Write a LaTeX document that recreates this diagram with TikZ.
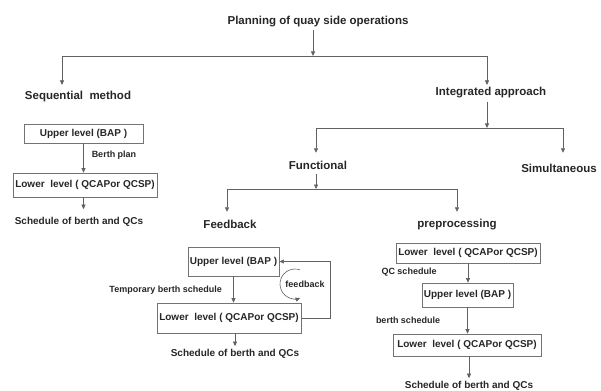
\documentclass[tikz,border=0pt]{standalone}
\usepackage{fontspec}
\setmainfont{Liberation Sans}
\usetikzlibrary{arrows.meta, calc}
\colorlet{linegray}{black!62}
\colorlet{boxgray}{black!55}
\colorlet{textdark}{black!85}

\begin{document}
\begin{tikzpicture}[
        x=1pt, y=-1pt,
        head/.style={
            inner sep=0pt,
            text=textdark,
            font=\fontsize{11.5}{13}\selectfont\bfseries,
        },
        box/.style={
            draw=boxgray,
            rectangle,
            line width=0.7pt,
            inner sep=2pt,
            text=textdark,
            font=\fontsize{10}{12}\selectfont\bfseries,
        },
        note/.style={
            inner sep=0pt,
            text=textdark,
            font=\fontsize{9}{11}\selectfont\bfseries,
        },
        result/.style={
            inner sep=0pt,
            text=textdark,
            font=\fontsize{10}{12}\selectfont\bfseries,
        },
        flow/.style={
            draw=linegray,
            line width=0.6pt,
            -{Triangle[width=4pt, length=4.5pt]},
        },
    ]

    \useasboundingbox (0,0) rectangle (601,390);

    % headings
    \node[head] (plan) at (318,22) {Planning of quay side operations};
    \node[head] (seq) at (78,97) {Sequential\ \ method};
    \node[head] (intg) at (491,93) {Integrated approach};
    \node[head] (func) at (318,165) {Functional};
    \node[head] (simul) at (559,168) {Simultaneous};
    \node[head] (fback) at (230,224) {Feedback};
    \node[head] (prep) at (457,225) {preprocessing};

    % sequential method
    \node[box, minimum width=119pt, minimum height=19pt] (su) at (83.5,133.5) {Upper level (BAP )};
    \node[box, minimum width=144pt, minimum height=24pt] (sl) at (85,185) {Lower\ \ level ( QCAPor QCSP)};
    \node[result] (sres) at (79,222) {Schedule of berth and QCs};
    \node[note] (splan) at (114,155) {Berth plan};

    % feedback
    \node[box, minimum width=91pt, minimum height=29pt] (fu) at (233.5,261.5) {Upper level (BAP )};
    \node[box, minimum width=144pt, minimum height=30pt] (fl) at (229,318) {Lower\ \ level ( QCAPor QCSP)};
    \node[result] (fres) at (235,354) {Schedule of berth and QCs};
    \node[note, anchor=east] (ftemp) at (222,290) {Temporary berth schedule};
    \node[note] (fnote) at (305,284) {feedback};
    \coordinate (floop) at (330,318);
    \coordinate (fcirc) at (295,284);

    % preprocessing
    \node[box, minimum width=144pt, minimum height=20pt] (pl1) at (468,253) {Lower\ \ level ( QCAPor QCSP)};
    \node[box, minimum width=91pt, minimum height=24pt] (pu) at (467.5,295) {Upper level (BAP )};
    \node[box, minimum width=148pt, minimum height=22pt] (pl2) at (467,345) {Lower\ \ level ( QCAPor QCSP)};
    \node[result] (pres) at (469,386) {Schedule of berth and QCs};
    \node[note] (pqc) at (409,272) {QC schedule};
    \node[note] (pberth) at (408,320) {berth schedule};

    % tree
    \coordinate (j1) at (313,56);
    \coordinate (j2) at (487,128);
    \coordinate (j3) at (316,189);
    \draw[flow, shorten <=2pt] (plan.south -| j1) -- (j1);
    \draw[flow, shorten >=6.5pt] (j1) -| ([xshift=-16pt]seq.north);
    \draw[flow, shorten >=2.5pt] (j1) -| ([xshift=-4pt]intg.north);
    \draw[flow, shorten <=3pt] (intg.south -| j2) -- (j2);
    \draw[flow, shorten >=7.8pt] (j2) -| ([xshift=-2pt]func.north);
    \draw[flow, shorten >=10.8pt] (j2) -| ([xshift=4pt]simul.north);
    \draw[flow, shorten <=5pt] (func.south -| j3) -- (j3);
    \draw[flow, shorten >=7.8pt] (j3) -| ([xshift=-3pt]fback.north);
    \draw[flow, shorten >=7.6pt] (j3) -| (prep.north);

    % levels
    \draw[flow] (su.south) -- (su.south |- sl.north);
    \draw[flow, shorten >=8pt] (sl.south -| su.south) -- (su.south |- sres.north);
    \draw[flow] (fu.south) -- (fu.south |- fl.north);
    \draw[flow, shorten >=3pt] (fl.south -| fres) -- (fres.north);
    \draw[flow] (fl.east) -- (floop) |- (fu.east);
    \draw[flow] ($(fcirc)+(-70:15)$) arc[start angle=-70, end angle=-290, radius=15];
    \draw[flow] (pl1.south) -- (pl1.south |- pu.north);
    \draw[flow] (pu.south) -- (pu.south |- pl2.north);
    \draw[flow, shorten >=3pt] (pl2.south -| pres) -- (pres.north);
\end{tikzpicture}
\end{document}
